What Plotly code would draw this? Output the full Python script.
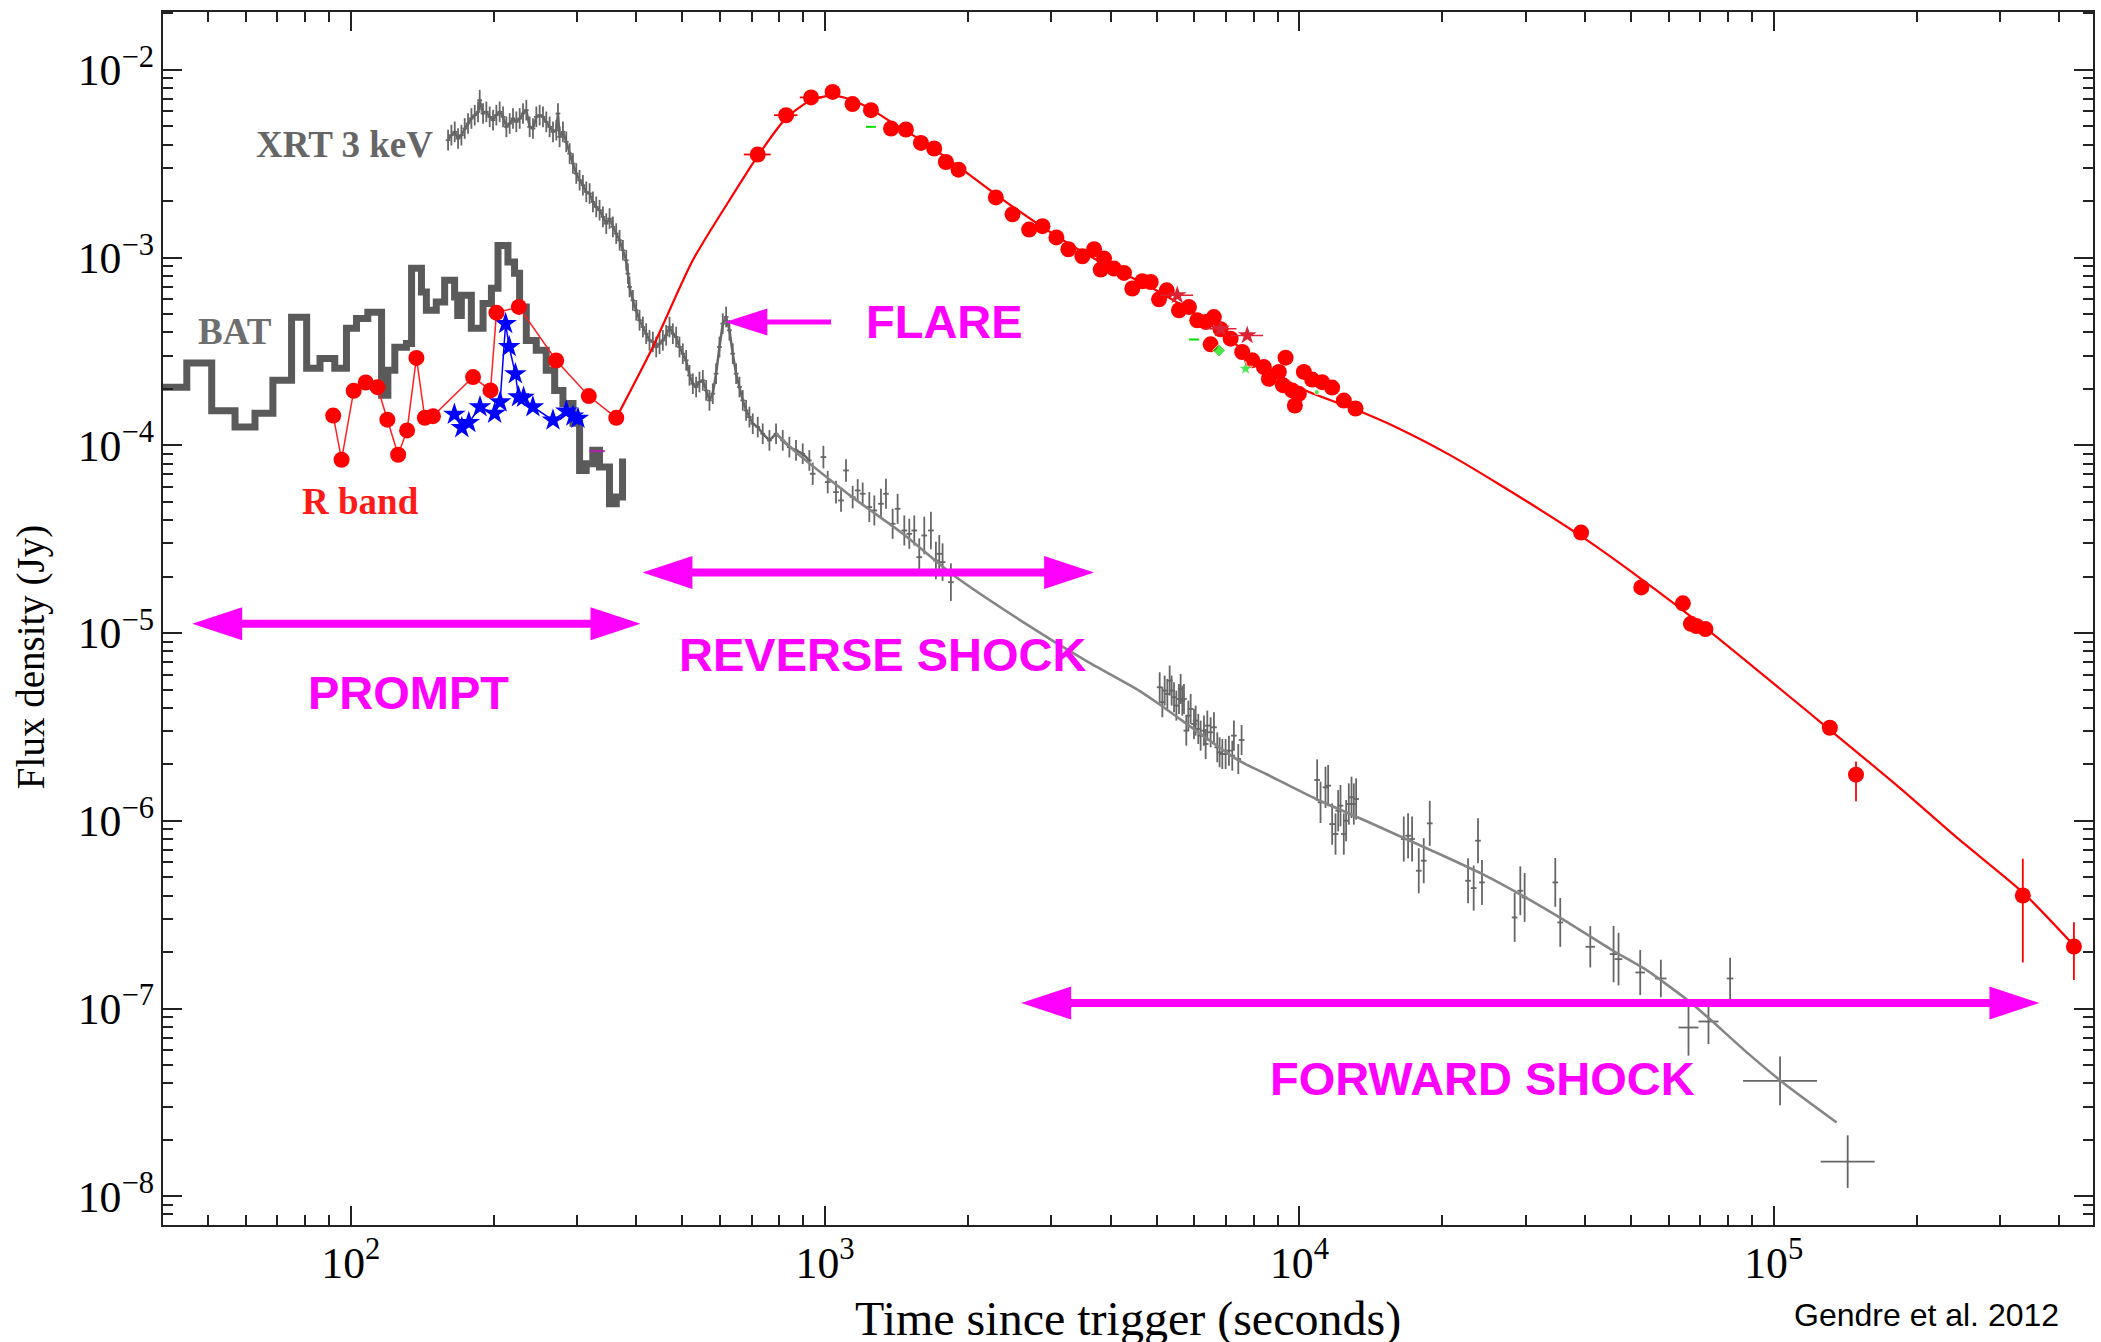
import numpy as np
import plotly.graph_objects as go

# ---------------- data ----------------
# Swift/BAT (extrapolated) step light curve: bin start time (s), flux density (Jy)
bat_t = [38.0, 45.1, 50.9, 57.0, 62.8, 68.5, 75.0, 80.7, 86.1, 92.5, 97.9, 102.8, 108.6,
         116.1, 119.7, 123.8, 131.0, 134.3, 140.9, 144.3, 151.4, 157.7, 165.5, 168.0, 171.0,
         179.5, 190.0, 197.9, 204.3, 214.4, 221.4, 226.9, 234.4, 246.0, 258.2, 269.0, 280.0,
         294.0, 303.6, 313.5, 323.7, 334.4, 351.0, 362.8, 374.0]
bat_f = [2.04e-4, 2.74e-4, 1.53e-4, 1.25e-4, 1.48e-4, 2.22e-4, 4.81e-4, 2.57e-4, 2.90e-4,
         2.57e-4, 4.20e-4, 4.74e-4, 5.11e-4, 1.85e-4, 2.51e-4, 3.33e-4, 3.49e-4, 8.77e-4,
         6.56e-4, 5.24e-4, 5.79e-4, 7.57e-4, 6.17e-4, 4.92e-4, 6.30e-4, 4.20e-4, 5.70e-4,
         6.86e-4, 1.16e-3, 9.48e-4, 8.24e-4, 5.46e-4, 3.62e-4, 3.21e-4, 2.51e-4, 1.96e-4,
         1.67e-4, 1.31e-4, 7.35e-5, 7.97e-5, 9.40e-5, 7.66e-5, 4.89e-5, 5.30e-5, 8.50e-5]

# XRT 3 keV, dense early window-timing data (log10 t [s], log10 F [Jy])
xrt_early_logt = [2.2050, 2.2120, 2.2191, 2.2261, 2.2331, 2.2401, 2.2471, 2.2542, 2.2612, 2.2682,
                  2.2717, 2.2787, 2.2857, 2.2928, 2.2998, 2.3068, 2.3138, 2.3209, 2.3279, 2.3349,
                  2.3419, 2.3489, 2.3560, 2.3630, 2.3700, 2.3770, 2.3840, 2.3911, 2.3981, 2.4051,
                  2.4121, 2.4191, 2.4262, 2.4332, 2.4367, 2.4402, 2.4472, 2.4542, 2.4613, 2.4683,
                  2.4753, 2.4823, 2.4893, 2.4964, 2.5034, 2.5104, 2.5174, 2.5244, 2.5315, 2.5385,
                  2.5455, 2.5525, 2.5595, 2.5666, 2.5736, 2.5806, 2.5841, 2.5876, 2.5946, 2.6017,
                  2.6087, 2.6157, 2.6227, 2.6297, 2.6368, 2.6438, 2.6508, 2.6578, 2.6648, 2.6719,
                  2.6789, 2.6859, 2.6929, 2.6999, 2.7070, 2.7140, 2.7210, 2.7280, 2.7350, 2.7421,
                  2.7491, 2.7561, 2.7631, 2.7701, 2.7772, 2.7842, 2.7912, 2.7982, 2.8052, 2.8123,
                  2.8193, 2.8263, 2.8333, 2.8403, 2.8474, 2.8579, 2.8684, 2.8825, 2.8965, 2.9106,
                  2.9246, 2.9386, 2.9527, 2.9667]
xrt_early_logf = [-2.3747, -2.3481, -2.3303, -2.3659, -2.3481, -2.3126, -2.2859, -2.2592, -2.2415,
                  -2.2237, -2.1615, -2.2326, -2.2237, -2.2504, -2.2681, -2.2415, -2.2237, -2.2504,
                  -2.3037, -2.2859, -2.2592, -2.2770, -2.2592, -2.2326, -2.2148, -2.3037, -2.3126,
                  -2.2504, -2.2415, -2.2504, -2.2770, -2.3037, -2.3303, -2.3214, -2.2326, -2.3570,
                  -2.3303, -2.3836, -2.4458, -2.4991, -2.5524, -2.5880, -2.6146, -2.6501, -2.6590,
                  -2.7035, -2.7301, -2.7479, -2.7834, -2.8190, -2.7923, -2.8367, -2.8723, -2.9078,
                  -2.9611, -3.0144, -3.0855, -3.1565, -3.2276, -3.2809, -3.3342, -3.3698, -3.4053,
                  -3.4409, -3.4497, -3.4764, -3.4586, -3.4409, -3.4142, -3.3698, -3.4053, -3.4231,
                  -3.4764, -3.5119, -3.5474, -3.6274, -3.6718, -3.6896, -3.6630, -3.6541, -3.7074,
                  -3.7607, -3.7251, -3.6185, -3.4764, -3.3520, -3.3165, -3.3875, -3.5119, -3.6185,
                  -3.6896, -3.7607, -3.8140, -3.8495, -3.8851, -3.9028, -3.9384, -3.9739, -3.9384,
                  -3.9739, -4.0094, -4.0272, -4.0450, -4.0805]
xrt_early_err_dex = 0.055

# XRT 3 keV, later (photon-counting) data with errors in dex
xrt_logt = [2.9738, 2.9963, 3.0054, 3.0229, 3.0335, 3.0440, 3.0580, 3.0686, 3.0791, 3.0931,
            3.1037, 3.1177, 3.1282, 3.1423, 3.1528, 3.1669, 3.1774, 3.1879, 3.1984, 3.2090,
            3.2230, 3.2335, 3.2406, 3.2476, 3.2651,
            3.7053, 3.7109, 3.7158, 3.7214, 3.7263, 3.7305, 3.7355, 3.7404, 3.7460, 3.7495,
            3.7530, 3.7565, 3.7614, 3.7657, 3.7706, 3.7776, 3.7811, 3.7867, 3.7916, 3.7986,
            3.8022, 3.8057, 3.8127, 3.8197, 3.8267, 3.8316, 3.8373, 3.8443, 3.8513, 3.8583,
            3.8618, 3.8710, 3.8780,
            4.0373, 4.0444, 4.0549, 4.0605, 4.0689, 4.0760, 4.0816, 4.0865, 4.0935, 4.0984,
            4.1040, 4.1097, 4.1146, 4.1195,
            4.2199, 4.2290, 4.2374, 4.2515, 4.2620, 4.2747,
            4.3554, 4.3673, 4.3764, 4.3848,
            4.4537, 4.4656, 4.4747, 4.5393, 4.5498,
            4.6131, 4.6622, 4.6727, 4.7184, 4.7619, 4.8202, 4.8623, 4.9079, 5.0132, 5.1558]
xrt_logf = [-4.1516, -4.0627, -4.1960, -4.2493, -4.2937, -4.1338, -4.2760, -4.2404, -4.2581,
            -4.3292, -4.3470, -4.3115, -4.2581, -4.4181, -4.3381, -4.4536, -4.4714, -4.4536,
            -4.5958, -4.4803, -4.4536, -4.6135, -4.5780, -4.6224, -4.7290,
            -5.2888, -5.3687, -5.3065, -5.3243, -5.2532, -5.3065, -5.3420, -5.3865, -5.3509,
            -5.2976, -5.3598, -5.3509, -5.5197, -5.4398, -5.4042, -5.4842, -5.4664, -5.5109,
            -5.5464, -5.5197, -5.5908, -5.4931, -5.5286, -5.5020, -5.6086, -5.6352, -5.6441,
            -5.6441, -5.6264, -5.6530, -5.5464, -5.6708, -5.5695,
            -5.7827, -5.9018, -5.8218, -5.8129, -6.0173, -6.0706, -5.9462, -5.9195, -6.0706,
            -5.9995, -5.9106, -5.8751, -5.9106, -5.8840,
            -6.0972, -6.0795, -6.0972, -6.2660, -6.2127, -6.0137,
            -6.3193, -6.3584, -6.1061, -6.3282,
            -6.5148, -6.3726, -6.4082, -6.3282, -6.5414,
            -6.6711, -6.7102, -6.7369, -6.8079, -6.8399, -7.1011, -7.0691, -6.8399, -7.3854, -7.8154]
xrt_ferr_dex = ([0.06] * 9 + [0.08] * 9 + [0.10] * 7 + [0.08] * 33 + [0.11] * 14 + [0.12] * 6
                + [0.12] * 4 + [0.13] * 5
                + [0.11, 0.15, 0.14, 0.12, 0.10, 0.15, 0.12, 0.11, 0.13, 0.14])
xrt_terr_dex = ([0.006] * 87 + [0.010, 0.008, 0.008, 0.010, 0.012, 0.021, 0.021, 0.007, 0.078, 0.057])

# XRT model curve
xrt_model_t = [788.2, 868.2, 1142.6, 1456.5, 1856, 2565, 3544, 4590, 5057, 7455, 8484, 10812,
               13781, 19035, 24260, 29940, 36350, 45560, 53560, 66090, 73990, 87000, 105630, 135700]
xrt_model_f = [1.157e-4, 9.17e-5, 5.28e-5, 3.39e-5, 2.05e-5, 1.18e-5, 7.13e-6, 4.94e-6, 4.19e-6,
               2.09e-6, 1.78e-6, 1.31e-6, 1.00e-6, 6.93e-7, 5.21e-7, 3.91e-7, 2.93e-7, 2.05e-7,
               1.62e-7, 1.10e-7, 8.60e-8, 5.95e-8, 3.95e-8, 2.47e-8]

# R band, prompt phase
r_early_t = [91.8, 95.6, 101.4, 107.5, 113.8, 119.4, 125.8, 131.4, 137.5, 143.2, 149.0, 181.0,
             197.0, 202.8, 226.1, 271.0, 317.5, 362.8]
r_early_f = [1.44e-4, 8.38e-5, 1.95e-4, 2.16e-4, 2.04e-4, 1.37e-4, 8.91e-5, 1.20e-4, 2.92e-4,
             1.40e-4, 1.43e-4, 2.31e-4, 1.96e-4, 5.09e-4, 5.46e-4, 2.83e-4, 1.83e-4, 1.40e-4]

# Blue stars (second optical instrument, prompt phase)
blue_t = [165.3, 171.4, 177.3, 187.2, 201.0, 206.4, 212.0, 215.7, 222.3, 225.7, 231.3, 242.0,
          266.8, 284.6, 294.0, 301.2]
blue_f = [1.46e-4, 1.24e-4, 1.32e-4, 1.60e-4, 1.48e-4, 1.70e-4, 4.45e-4, 3.35e-4, 2.40e-4,
          1.81e-4, 1.80e-4, 1.60e-4, 1.36e-4, 1.52e-4, 1.43e-4, 1.39e-4]

# R band afterglow points
red_t = [720.8, 827.3, 933.9, 1037, 1142, 1249, 1377, 1480, 1592, 1698, 1797, 1911, 2290, 2483,
         2692, 2872, 3073, 3257, 3486, 3690, 3873, 3811, 4065, 4267, 4442, 4663, 4857, 5057,
         5249, 5572, 5848, 6088, 6341, 6601, 6819, 7159, 6497, 7573, 7949, 8414, 8620, 9047,
         9348, 9226, 9652, 9970, 9779, 10216, 10634, 11163, 11718, 12404, 13129, 39240, 52560,
         64330, 66880, 68650, 71760, 131290, 149060, 335020, 429330]
red_f = [3.54e-3, 5.73e-3, 7.13e-3, 7.63e-3, 6.57e-3, 6.10e-3, 4.87e-3, 4.81e-3, 4.08e-3,
         3.81e-3, 3.23e-3, 2.94e-3, 2.09e-3, 1.70e-3, 1.41e-3, 1.47e-3, 1.28e-3, 1.107e-3,
         1.016e-3, 1.107e-3, 9.88e-4, 8.63e-4, 8.74e-4, 8.28e-4, 6.84e-4, 7.48e-4, 7.41e-4,
         5.99e-4, 6.69e-4, 5.24e-4, 5.45e-4, 4.63e-4, 4.54e-4, 4.82e-4, 4.15e-4, 3.70e-4,
         3.45e-4, 3.14e-4, 2.84e-4, 2.61e-4, 2.26e-4, 2.46e-4, 2.93e-4, 2.09e-4, 1.96e-4,
         1.88e-4, 1.63e-4, 2.46e-4, 2.24e-4, 2.17e-4, 2.03e-4, 1.73e-4, 1.57e-4, 3.43e-5,
         1.75e-5, 1.44e-5, 1.12e-5, 1.09e-5, 1.05e-5, 3.13e-6, 1.76e-6, 4.00e-7, 2.14e-7]
red_terr = [47, 47, 50, 30] + [0] * 59
red_ferr_up = [0] * 60 + [3.1e-7, 2.28e-7, 7.4e-8]
red_ferr_down = [0] * 60 + [4.9e-7, 2.24e-7, 7.2e-8]

# R band model curve
r_model_t = [362.8, 433.2, 525.9, 628.4, 720.7, 827.4, 933.8, 1037, 1143, 1259, 1410, 1605, 1917,
             2328, 2967, 3779, 4817, 6140, 7823, 9970, 13130, 16190, 20640, 26300, 39240, 52560,
             69370, 130300, 183000, 244700, 335500, 429700]
r_model_f = [1.40e-4, 3.34e-4, 9.67e-4, 2.02e-3, 3.47e-3, 5.53e-3, 6.89e-3, 7.29e-3, 6.89e-3,
             6.10e-3, 5.07e-3, 4.17e-3, 3.03e-3, 2.10e-3, 1.38e-3, 9.56e-4, 7.03e-4, 4.86e-4,
             3.05e-4, 2.03e-4, 1.55e-4, 1.23e-4, 8.95e-5, 6.22e-5, 3.28e-5, 1.94e-5, 1.14e-5,
             3.10e-6, 1.52e-6, 8.03e-7, 4.14e-7, 2.16e-7]

# other optical points
rstar_t = [5526, 6819, 7761]
rstar_f = [6.30e-4, 4.18e-4, 3.85e-4]
green_t = [6766, 7699, 10880]
green_f = [3.20e-4, 2.56e-4, 1.92e-4]
green_dash_t = [1249, 5993]
green_dash_f = [4.97e-3, 3.66e-4]
purple_t = [330.5]
purple_f = [9.31e-5]

# ---------------- figure geometry ----------------
W, H = 2101, 1342
ML, MR, MT, MB = 163, 6, 12, 117
PW, PH = W - ML - MR, H - MT - MB
X0, X1 = 1.604, 5.673      # log10 time range
Y0, Y1 = -8.153, -1.692    # log10 flux range

SERIF = "Liberation Serif, Times New Roman, serif"
SANS = "Liberation Sans, Arial, sans-serif"
MAGENTA = "#FF00FF"
GRAY = "#666666"

fig = go.Figure()

# BAT
fig.add_trace(go.Scatter(x=bat_t, y=bat_f, mode="lines",
                         line=dict(color="#5a5a5a", width=7, shape="hv"),
                         hoverinfo="skip", showlegend=False))

# XRT early dense
xe_t = 10 ** np.array(xrt_early_logt)
xe_f = 10 ** np.array(xrt_early_logf)
fig.add_trace(go.Scatter(
    x=xe_t, y=xe_f, mode="lines", line=dict(color=GRAY, width=2.5),
    error_y=dict(type="data", array=xe_f * (10 ** xrt_early_err_dex - 1),
                 arrayminus=xe_f * (1 - 10 ** -xrt_early_err_dex),
                 color=GRAY, thickness=1.8, width=0),
    error_x=dict(type="data", array=xe_t * (10 ** 0.005 - 1),
                 arrayminus=xe_t * (1 - 10 ** -0.005), color=GRAY, thickness=1.8, width=0),
    hoverinfo="skip", showlegend=False))

# XRT later data
xl_t = 10 ** np.array(xrt_logt)
xl_f = 10 ** np.array(xrt_logf)
fe = np.array(xrt_ferr_dex)
te = np.array(xrt_terr_dex)
fig.add_trace(go.Scatter(
    x=xl_t, y=xl_f, mode="markers", marker=dict(color=GRAY, size=2),
    error_y=dict(type="data", array=xl_f * (10 ** fe - 1), arrayminus=xl_f * (1 - 10 ** -fe),
                 color=GRAY, thickness=1.8, width=0),
    error_x=dict(type="data", array=xl_t * (10 ** te - 1), arrayminus=xl_t * (1 - 10 ** -te),
                 color=GRAY, thickness=1.8, width=0),
    hoverinfo="skip", showlegend=False))

# XRT model
fig.add_trace(go.Scatter(x=xrt_model_t, y=xrt_model_f, mode="lines",
                         line=dict(color="#858585", width=2.6, shape="spline", smoothing=0.6),
                         hoverinfo="skip", showlegend=False))

# Blue stars
fig.add_trace(go.Scatter(x=blue_t, y=blue_f, mode="lines+markers",
                         line=dict(color="#0000FF", width=1.5),
                         marker=dict(symbol="star", size=17, color="#0000FF"),
                         hoverinfo="skip", showlegend=False))

# R band model
fig.add_trace(go.Scatter(x=r_model_t, y=r_model_f, mode="lines",
                         line=dict(color="#FF0000", width=2.2, shape="spline", smoothing=0.7),
                         hoverinfo="skip", showlegend=False))

# R band prompt
fig.add_trace(go.Scatter(x=r_early_t, y=r_early_f, mode="lines+markers",
                         line=dict(color="#FF2020", width=1.5),
                         marker=dict(symbol="circle", size=16, color="#FF0000"),
                         hoverinfo="skip", showlegend=False))

# R band afterglow
fig.add_trace(go.Scatter(
    x=red_t, y=red_f, mode="markers", marker=dict(symbol="circle", size=16, color="#FF0000"),
    error_x=dict(type="data", array=red_terr, color="#FF0000", thickness=1.8, width=0),
    error_y=dict(type="data", array=red_ferr_up, arrayminus=red_ferr_down,
                 color="#FF0000", thickness=1.8, width=0),
    hoverinfo="skip", showlegend=False))

fig.add_trace(go.Scatter(x=rstar_t, y=rstar_f, mode="markers",
                         marker=dict(symbol="star", size=14, color="#DD2233"),
                         error_x=dict(type="percent", value=8, color="#DD2233", thickness=1.5, width=0),
                         hoverinfo="skip", showlegend=False))
fig.add_trace(go.Scatter(x=green_t, y=green_f, mode="markers",
                         marker=dict(symbol=["diamond", "star", "circle"], size=[10, 11, 5], color="#00DD00"),
                         hoverinfo="skip", showlegend=False))
fig.add_trace(go.Scatter(x=green_dash_t, y=green_dash_f, mode="markers",
                         marker=dict(symbol="line-ew", size=7, line=dict(color="#00DD00", width=2)),
                         hoverinfo="skip", showlegend=False))
fig.add_trace(go.Scatter(x=purple_t, y=purple_f, mode="markers",
                         marker=dict(symbol="line-ew", size=11, line=dict(color="#B020B0", width=2)),
                         hoverinfo="skip", showlegend=False))


# ---------------- annotations ----------------
def px(t):
    return (np.log10(t) - X0) / (X1 - X0)


def py(f):
    return (np.log10(f) - Y0) / (Y1 - Y0)


shapes = []


def arrow(t0, t1, f, lw, head_len, head_w, left=True, right=True):
    y = py(f)
    x0, x1 = px(t0), px(t1)
    hl = head_len / PW
    hw = head_w / 2 / PH
    xs = x0 + (hl * 0.9 if left else 0)
    xe = x1 - (hl * 0.9 if right else 0)
    shapes.append(dict(type="line", xref="paper", yref="paper", x0=xs, x1=xe, y0=y, y1=y,
                       line=dict(color=MAGENTA, width=lw)))
    if left:
        shapes.append(dict(type="path", xref="paper", yref="paper",
                           path=f"M{x0},{y} L{x0 + hl},{y + hw} L{x0 + hl},{y - hw} Z",
                           fillcolor=MAGENTA, line=dict(color=MAGENTA, width=0)))
    if right:
        shapes.append(dict(type="path", xref="paper", yref="paper",
                           path=f"M{x1},{y} L{x1 - hl},{y + hw} L{x1 - hl},{y - hw} Z",
                           fillcolor=MAGENTA, line=dict(color=MAGENTA, width=0)))


arrow(46.3, 408, 1.12e-5, 8, 50, 33)          # prompt
arrow(412, 3690, 2.10e-5, 8, 50, 33)          # reverse shock
arrow(2590, 3.63e5, 1.07e-7, 8, 50, 33)       # forward shock
arrow(616, 1029, 4.54e-4, 5, 42, 27, left=True, right=False)  # flare

annotations = []


def label(text, t, f, size, color, family):
    annotations.append(dict(x=np.log10(t), y=np.log10(f), xref="x", yref="y", text=text,
                            showarrow=False, xanchor="center", yanchor="middle",
                            font=dict(family=family, size=size, color=color)))


label("<b>FLARE</b>", 1783, 4.59e-4, 47, MAGENTA, SANS)
label("<b>REVERSE SHOCK</b>", 1322, 7.66e-6, 47, MAGENTA, SANS)
label("<b>PROMPT</b>", 132.2, 4.85e-6, 47, MAGENTA, SANS)
label("<b>FORWARD SHOCK</b>", 24280, 4.25e-8, 47, MAGENTA, SANS)
label("<b>XRT 3 keV</b>", 97.1, 3.99e-3, 37, "#666666", SERIF)
label("<b>BAT</b>", 57.1, 4.02e-4, 37, "#6e6e6e", SERIF)
label("<b>R band</b>", 104.7, 4.99e-5, 37, "#FF1a1a", SERIF)

annotations.append(dict(x=0.5, y=-0.0775, xref="paper", yref="paper",
                        text="Time since trigger (seconds)", showarrow=False,
                        xanchor="center", yanchor="middle",
                        font=dict(family=SERIF, size=48, color="black")))
annotations.append(dict(x=-0.0683, y=0.4683, xref="paper", yref="paper",
                        text="Flux density (Jy)", showarrow=False, textangle=-90,
                        xanchor="center", yanchor="middle",
                        font=dict(family=SERIF, size=39, color="black")))
annotations.append(dict(x=0.9136, y=-0.0742, xref="paper", yref="paper",
                        text="Gendre et al. 2012", showarrow=False,
                        xanchor="center", yanchor="middle",
                        font=dict(family="Liberation Sans Narrow, Arial Narrow, Liberation Sans, Arial",
                                  size=32, color="black")))

axis_common = dict(
    type="log", showgrid=False, zeroline=False, showline=True, linecolor="#222222",
    linewidth=2, mirror="allticks", ticks="inside", ticklen=19, tickwidth=2,
    tickcolor="#222222", dtick=1, exponentformat="power", showexponent="all",
    tickfont=dict(family=SERIF, size=35, color="black"),
    minor=dict(ticks="inside", ticklen=10, tickwidth=1.5, tickcolor="#222222",
               dtick="D1", showgrid=False),
)

fig.update_layout(
    width=W, height=H,
    margin=dict(l=ML, r=MR, t=MT, b=MB, pad=0),
    paper_bgcolor="white", plot_bgcolor="white",
    xaxis=dict(range=[X0, X1], **axis_common),
    yaxis=dict(range=[Y0, Y1], **axis_common),
    shapes=shapes, annotations=annotations,
    showlegend=False,
)

fig.write_html("out.html")
